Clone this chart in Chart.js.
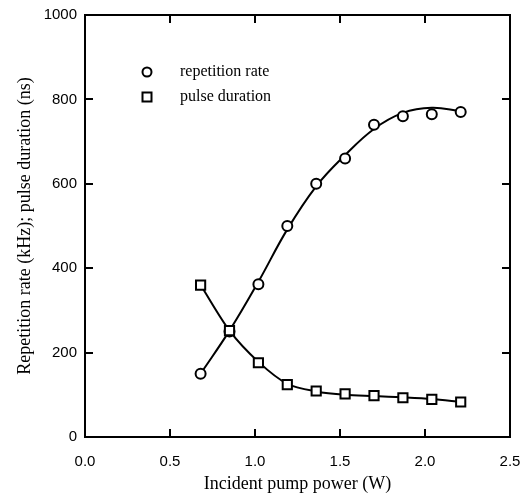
<!DOCTYPE html>
<html>
<head>
<meta charset="utf-8">
<script src="https://cdn.jsdelivr.net/npm/chart.js@4"></script>
<style>
  html, body { margin: 0; padding: 0; background: #fff; }
  #wrap { width: 521px; height: 495px; }
</style>
</head>
<body>
<div id="wrap"><canvas id="chart" width="521" height="495"></canvas></div>
<script>
// measured values
const pumpPower = [0.68, 0.85, 1.02, 1.19, 1.36, 1.53, 1.70, 1.87, 2.04, 2.21];
const repRate   = [150, 250, 362, 500, 600, 660, 740, 760, 765, 770];
const pulseDur  = [360, 252, 176, 124, 109, 102, 98, 93, 89, 83];

// fitted curves as drawn in the figure
const rateFit  = [150, 252, 368, 492, 594, 668, 730, 768, 780, 772];
const pulseFit = [360, 252, 178, 126, 108, 100, 97, 94, 90, 83];

const xTicks = [0, 0.5, 1.0, 1.5, 2.0, 2.5];
const yTicks = [0, 200, 400, 600, 800, 1000];

const legendItems = [
  { label: 'repetition rate', style: 'circle' },
  { label: 'pulse duration', style: 'rect' }
];

const serif = "'Liberation Serif', 'Times New Roman', serif";
const sans = "'Liberation Sans', Arial, sans-serif";

const toXY = (xs, ys) => xs.map((x, i) => ({ x, y: ys[i] }));

// little legend drawn inside the plot area
const insideLegend = {
  id: 'insideLegend',
  afterDraw(chart) {
    const { ctx, chartArea } = chart;
    const x0 = chartArea.left + 62;
    let y = chartArea.top + 57;
    ctx.save();
    ctx.lineWidth = 2;
    ctx.strokeStyle = '#000';
    ctx.fillStyle = '#000';
    ctx.font = '16px ' + serif;
    ctx.textBaseline = 'middle';
    legendItems.forEach(item => {
      ctx.beginPath();
      if (item.style === 'circle') {
        ctx.arc(x0, y, 4.5, 0, Math.PI * 2);
      } else {
        ctx.rect(x0 - 4.5, y - 4.5, 9, 9);
      }
      ctx.stroke();
      ctx.fillText(item.label, x0 + 33, y);
      y += 25;
    });
    ctx.restore();
  }
};

// fixed box sizes so the plot area lands where the figure has it
const fixSize = (w, h) => s => {
  if (w != null) s.width = w;
  if (h != null) s.height = h;
  s.paddingLeft = s.paddingRight = s.paddingTop = s.paddingBottom = 0;
};

const tickAxis = (extra) => Object.assign({
  type: 'linear',
  grid: { display: true, drawOnChartArea: false, drawTicks: true, tickLength: -8, color: '#000', lineWidth: 2 },
  border: { display: true, color: '#000', width: 2 },
}, extra);

new Chart(document.getElementById('chart'), {
  type: 'scatter',
  data: {
    datasets: [
      {
        label: 'pulse duration',
        data: toXY(pumpPower, pulseDur),
        showLine: false,
        pointStyle: 'rect',
        pointRadius: 6.5,
        pointBorderWidth: 2,
        pointBorderColor: '#000',
        pointBackgroundColor: '#fff'
      },
      {
        label: 'repetition rate',
        data: toXY(pumpPower, repRate),
        showLine: false,
        pointStyle: 'circle',
        pointRadius: 5,
        pointBorderWidth: 2,
        pointBorderColor: '#000',
        pointBackgroundColor: '#fff'
      },
      {
        label: 'rate fit',
        data: toXY(pumpPower, rateFit),
        showLine: true,
        pointRadius: 0,
        borderColor: '#000',
        borderWidth: 2,
        tension: 0.4
      },
      {
        label: 'pulse fit',
        data: toXY(pumpPower, pulseFit),
        showLine: true,
        pointRadius: 0,
        borderColor: '#000',
        borderWidth: 2,
        tension: 0.3
      }
    ]
  },
  options: {
    responsive: false,
    animation: false,
    layout: { padding: { top: 15, right: 11, left: 0, bottom: 0 } },
    plugins: {
      legend: { display: false },
      tooltip: { enabled: false }
    },
    scales: {
      x: tickAxis({
        position: 'bottom',
        min: 0, max: 2.5,
        afterBuildTicks: s => { s.ticks = xTicks.map(v => ({ value: v })); },
        afterFit: fixSize(null, 58),
        ticks: {
          color: '#000', padding: 24, maxRotation: 0,
          font: { family: sans, size: 15 },
          callback: v => v.toFixed(1)
        },
        title: {
          display: true, text: 'Incident pump power (W)', color: '#000',
          font: { family: serif, size: 18 }, padding: { top: 0, bottom: 0 }
        }
      }),
      y: tickAxis({
        position: 'left',
        min: 0, max: 1000,
        afterBuildTicks: s => { s.ticks = yTicks.map(v => ({ value: v })); },
        afterFit: fixSize(85, null),
        ticks: {
          color: '#000', padding: 16,
          font: { family: sans, size: 15 },
          callback: v => String(v)
        },
        title: {
          display: true, text: 'Repetition rate (kHz); pulse duration (ns)', color: '#000',
          font: { family: serif, size: 18 }, padding: { top: 14, bottom: 0 }
        }
      }),
      x2: tickAxis({
        position: 'top',
        min: 0, max: 2.5,
        afterBuildTicks: s => { s.ticks = xTicks.map(v => ({ value: v })); },
        afterFit: fixSize(null, 0),
        ticks: { display: false }
      }),
      y2: tickAxis({
        position: 'right',
        min: 0, max: 1000,
        afterBuildTicks: s => { s.ticks = yTicks.map(v => ({ value: v })); },
        afterFit: fixSize(0, null),
        ticks: { display: false }
      })
    }
  },
  plugins: [insideLegend]
});
</script>
</body>
</html>
